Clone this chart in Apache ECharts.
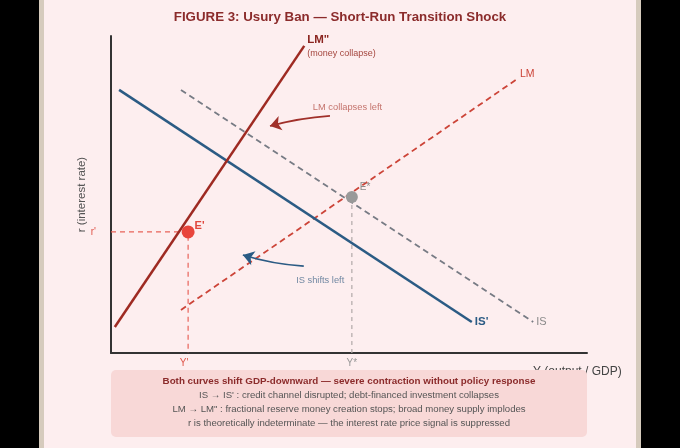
<!DOCTYPE html>
<html>
<head>
<meta charset="utf-8">
<script src="https://cdn.jsdelivr.net/npm/echarts@6/dist/echarts.min.js"></script>
<style>
  html, body { margin: 0; padding: 0; }
  body {
    width: 680px; height: 448px; overflow: hidden;
    background: linear-gradient(to right, #000 0, #000 39px, #d6cbbd 39px, #d6cbbd 44px,
      #fdeeef 44px, #fdeeef 636px, #d6cbbd 636px, #d6cbbd 641px, #000 641px, #000 680px);
  }
  #chart-container { width: 680px; height: 448px; }
</style>
</head>
<body>
<div id="chart-container"></div>
<script>
// curves (x = output, y = interest rate, both 0..100)
var lmCollapsed = [[0.8, 8.2], [40.6, 96.9]];
var isShifted = [[1.7, 83.0], [75.8, 9.8]];
var isOriginal = [[14.7, 83.0], [88.7, 9.8]];
var lmOriginal = [[14.7, 13.6], [85.3, 86.4]];

// equilibria
var eStar = [50.6, 49.2];
var ePrime = [16.2, 38.2];

// guide lines down to the axes
var guidePrime = [[0, 38.2], [16.2, 38.2], [16.2, 0]];
var guideStar = [[50.6, 49.2], [50.6, 0]];

// tick labels
var yTicks = [38.2];
var yTickNames = ["r'"];
var xTicks = [16.2, 50.6];
var xTickNames = ["{r|Y'}", "{g|Y*}"];

// shift arrows: from -> to
var lmArrow = [[46.0, 74.8], [33.4, 71.6]];
var isArrow = [[40.5, 27.4], [27.7, 30.9]];
var notes = [
    { value: [42.4, 77.6], text: 'LM collapses left', color: '#b5534a' },
    { value: [38.9, 23.0], text: 'IS shifts left', color: '#4d6e8e' }
];

var boxLines = [
    'Both curves shift GDP-downward \u2014 severe contraction without policy response',
    "IS \u2192 IS' : credit channel disrupted; debt-financed investment collapses",
    'LM \u2192 LM" : fractional reserve money creation stops; broad money supply implodes',
    'r is theoretically indeterminate \u2014 the interest rate price signal is suppressed'
];

var FONT = 'Liberation Sans, Arial, sans-serif';

var chartDom = document.getElementById('chart-container');
var myChart = echarts.init(chartDom);

var option = {
    backgroundColor: 'transparent',
    animation: false,
    textStyle: { fontFamily: FONT },
    title: {
        text: 'FIGURE 3: Usury Ban \u2014 Short-Run Transition Shock',
        left: 'center',
        top: 6,
        textStyle: { fontSize: 13.3, fontWeight: 'bold', color: '#8b2b2b', fontFamily: FONT }
    },
    grid: { left: 111, right: 93, top: 36, bottom: 95 },
    xAxis: {
        type: 'value', min: 0, max: 100, interval: 10,
        name: 'Y (output / GDP)',
        nameLocation: 'end',
        nameGap: -54,
        nameMoveOverlap: false,
        nameTextStyle: { color: '#444', fontSize: 12, align: 'left', verticalAlign: 'top', padding: [13, 0, 0, 0] },
        axisLine: { lineStyle: { color: '#333', width: 2 } },
        axisTick: { show: false },
        splitLine: { show: false },
        axisLabel: {
            customValues: xTicks,
            margin: 5,
            formatter: function (v) { return xTickNames[xTicks.indexOf(v)] || ''; },
            rich: {
                r: { color: '#e0574c', fontSize: 10, padding: [0, 8, 0, 0] },
                g: { color: '#999', fontSize: 10 }
            }
        }
    },
    yAxis: {
        type: 'value', min: 0, max: 100, interval: 10,
        name: 'r (interest rate)',
        nameLocation: 'middle',
        nameRotate: 90,
        nameGap: 23,
        nameMoveOverlap: false,
        nameTextStyle: { color: '#555', fontSize: 11.5 },
        axisLine: { show: true, lineStyle: { color: '#333', width: 2 } },
        axisTick: { show: false },
        splitLine: { show: false },
        axisLabel: {
            customValues: yTicks,
            margin: 15,
            color: '#e0574c',
            fontSize: 10,
            formatter: function (v) { return yTickNames[yTicks.indexOf(v)] || ''; }
        }
    },
    series: [
        {
            name: 'guide prime', type: 'line', data: guidePrime, symbol: 'none', z: 1,
            lineStyle: { color: '#e8635a', width: 1.2, type: [5, 4] }
        },
        {
            name: 'guide star', type: 'line', data: guideStar, symbol: 'none', z: 1,
            lineStyle: { color: '#b0a8a8', width: 1.2, type: [4, 4] }
        },
        {
            name: 'IS', type: 'line', data: isOriginal, symbol: 'none',
            lineStyle: { color: '#777b84', width: 1.8, type: [6, 4] },
            endLabel: { show: true, formatter: 'IS', color: '#8a8a8a', fontSize: 11, distance: 3 }
        },
        {
            name: 'LM', type: 'line', data: lmOriginal, symbol: 'none',
            lineStyle: { color: '#cc4438', width: 1.8, type: [6, 4] },
            endLabel: { show: true, formatter: 'LM', color: '#cc4438', fontSize: 10.5, distance: 3, offset: [0, -5] }
        },
        {
            name: "IS'", type: 'line', data: isShifted, symbol: 'none',
            lineStyle: { color: '#2b5b84', width: 2.5 },
            endLabel: { show: true, formatter: "IS'", color: '#2b5b84', fontSize: 11.5, fontWeight: 'bold', distance: 3 }
        },
        {
            name: 'LM"', type: 'line', data: lmCollapsed, symbol: 'none',
            lineStyle: { color: '#9e2a22', width: 2.5 },
            endLabel: {
                show: true,
                formatter: '{a|LM"}\n{b|(money collapse)}',
                distance: 3,
                offset: [0, 1],
                rich: {
                    a: { color: '#8b2520', fontSize: 11.5, fontWeight: 'bold', lineHeight: 13 },
                    b: { color: '#a5473f', fontSize: 9, lineHeight: 13 }
                }
            }
        },
        {
            name: 'E*', type: 'scatter', data: [eStar], symbolSize: 12, z: 5,
            itemStyle: { color: '#999', opacity: 1 },
            label: { show: true, formatter: 'E*', position: [14, -9], color: '#8a8a8a', fontSize: 10 }
        },
        {
            name: "E'", type: 'scatter', data: [ePrime], symbolSize: 13, z: 5,
            itemStyle: { color: '#e8453c', opacity: 1 },
            label: { show: true, formatter: "E'", position: [13, -5], color: '#e0463c', fontSize: 11, fontWeight: 'bold' }
        },
        {
            name: 'LM arrow', type: 'lines', coordinateSystem: 'cartesian2d', z: 4,
            symbol: ['none', 'arrow'], symbolSize: 11,
            lineStyle: { color: '#a0302a', width: 1.6, curveness: -0.05, opacity: 1 },
            data: [{ coords: lmArrow }]
        },
        {
            name: 'IS arrow', type: 'lines', coordinateSystem: 'cartesian2d', z: 4,
            symbol: ['none', 'arrow'], symbolSize: 11,
            lineStyle: { color: '#2b5b84', width: 1.6, curveness: 0.06, opacity: 1 },
            data: [{ coords: isArrow }]
        },
        {
            name: 'notes', type: 'scatter', symbolSize: 0, z: 6,
            data: notes.map(function (n) {
                return {
                    value: n.value,
                    label: { show: true, formatter: n.text, color: n.color, fontSize: 9.3, position: 'right', distance: 0 }
                };
            })
        }
    ],
    graphic: [
        {
            type: 'group',
            z: 100,
            children: [
                {
                    type: 'rect',
                    shape: { x: 111, y: 370, width: 476, height: 67, r: 5 },
                    style: { fill: '#f8d8d7' },
                    z: 100
                }
            ].concat(boxLines.map(function (t, i) {
                return {
                    type: 'text',
                    x: 349,
                    y: [381, 395, 409, 423][i],
                    z: 101,
                    style: {
                        text: t,
                        fill: i === 0 ? '#8b2b2b' : '#555',
                        font: (i === 0 ? 'bold 9.8px ' : '9.6px ') + FONT,
                        textAlign: 'center',
                        textVerticalAlign: 'middle'
                    }
                };
            }))
        }
    ]
};

myChart.setOption(option);
</script>
</body>
</html>
